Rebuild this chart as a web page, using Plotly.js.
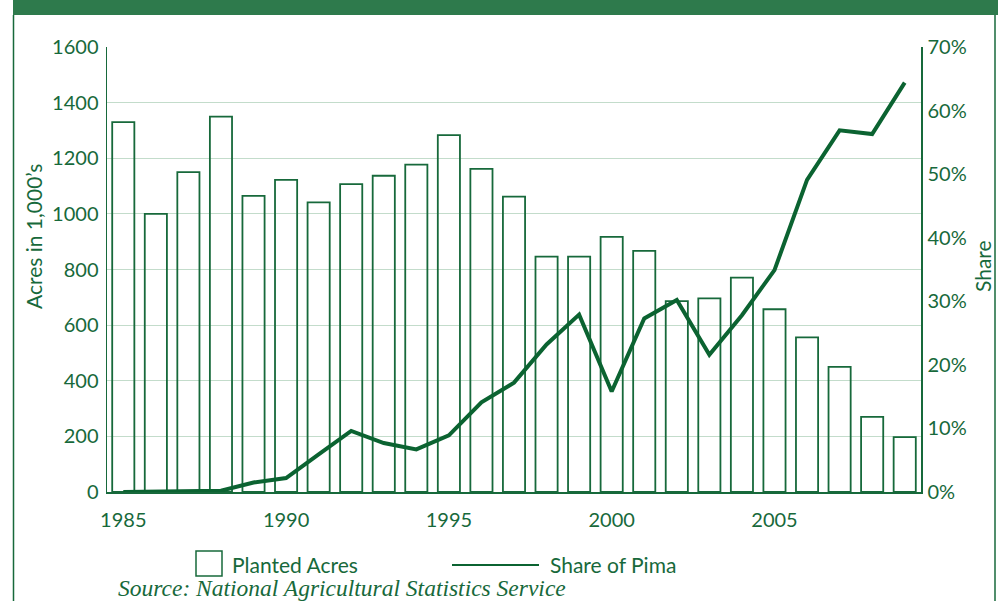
<!DOCTYPE html>
<html>
<head>
<meta charset="utf-8">
<script src="https://cdn.plot.ly/plotly-3.0.1.min.js"></script>
<style>
  html, body { margin: 0; padding: 0; background: #ffffff; }
  #chart { width: 1000px; height: 601px; }
</style>
</head>
<body>
<div id="chart"></div>
<script>
// Data
const years = [1985, 1986, 1987, 1988, 1989, 1990, 1991, 1992, 1993, 1994, 1995, 1996,
               1997, 1998, 1999, 2000, 2001, 2002, 2003, 2004, 2005, 2006, 2007, 2008, 2009];
const plantedAcres = [1330, 1000, 1150, 1350, 1065, 1122, 1041, 1107, 1137, 1177, 1283, 1162,
                      1062, 846, 846, 917, 867, 686, 696, 771, 657, 556, 450, 270, 197];
const shareOfPima = [0.0, 0.1, 0.2, 0.2, 1.5, 2.2, 5.9, 9.6, 7.7, 6.7, 8.9, 14.1,
                     17.2, 23.2, 27.9, 15.8, 27.3, 30.2, 21.6, 27.8, 34.9, 49.1, 56.9, 56.3, 64.4];
const xTicks = [1985, 1990, 1995, 2000, 2005];
const leftTicks = [0, 200, 400, 600, 800, 1000, 1200, 1400, 1600];
const rightTicks = [0, 10, 20, 30, 40, 50, 60, 70];
const rightTickText = ['0%', '10%', '20%', '30%', '40%', '50%', '60%', '70%'];

const GREEN = '#17693b';
const DARK = '#0b6331';
const GRID = '#c3dccb';
const FONT = 'Lato, "Open Sans", sans-serif';
const FS = 20;

const traces = [
  {
    type: 'bar',
    name: 'Planted Acres',
    x: years,
    y: plantedAcres,
    width: 0.68,
    marker: { color: 'rgba(255,255,255,0)', line: { color: GREEN, width: 1.8 } },
    showlegend: false,
    hoverinfo: 'x+y'
  },
  {
    type: 'scatter',
    mode: 'lines',
    name: 'Share of Pima',
    x: years,
    y: shareOfPima,
    yaxis: 'y2',
    line: { color: DARK, width: 4 },
    showlegend: false
  }
];

// paper-coordinate helpers (plot area: x 107..921, y 47..492 px)
const PX = (px) => (px - 107) / 814;
const PY = (py) => (492 - py) / 445;

const layout = {
  width: 1000,
  height: 601,
  margin: { l: 107, r: 79, t: 47, b: 109 },
  paper_bgcolor: '#ffffff',
  plot_bgcolor: '#ffffff',
  font: { family: FONT, color: GREEN, size: FS },
  showlegend: false,
  xaxis: {
    range: [1984.5, 2009.5],
    tickvals: xTicks,
    ticktext: xTicks.map(String),
    showgrid: false,
    zeroline: false,
    showline: true,
    linecolor: GREEN,
    linewidth: 2,
    ticks: '',
    ticklabelstandoff: 9,
    tickfont: { family: FONT, size: FS, color: GREEN }
  },
  yaxis: {
    range: [0, 1600],
    tickvals: leftTicks,
    showgrid: true,
    gridcolor: GRID,
    gridwidth: 1.2,
    zeroline: false,
    showline: true,
    linecolor: GREEN,
    linewidth: 1.5,
    ticks: '',
    ticklabelstandoff: 3,
    tickfont: { family: FONT, size: FS, color: GREEN }
  },
  yaxis2: {
    range: [0, 70],
    tickvals: rightTicks,
    ticktext: rightTickText,
    overlaying: 'y',
    side: 'right',
    showgrid: false,
    zeroline: false,
    showline: true,
    linecolor: GREEN,
    linewidth: 1.5,
    ticks: '',
    ticklabelstandoff: 1,
    tickfont: { family: FONT, size: FS, color: GREEN }
  },
  shapes: [
    // header banner
    { type: 'rect', xref: 'paper', yref: 'paper', x0: PX(13), x1: PX(998), y0: PY(0), y1: PY(15),
      fillcolor: '#2e7a4c', line: { width: 0 }, layer: 'above' },
    // frame lines
    { type: 'line', xref: 'paper', yref: 'paper', x0: PX(13.5), x1: PX(13.5), y0: PY(15), y1: PY(601),
      line: { color: GREEN, width: 1.5 } },
    { type: 'line', xref: 'paper', yref: 'paper', x0: PX(995), x1: PX(995), y0: PY(15), y1: PY(601),
      line: { color: GREEN, width: 1.5 } },
    // legend glyphs
    { type: 'rect', xref: 'paper', yref: 'paper', x0: PX(196), x1: PX(222), y0: PY(576), y1: PY(551),
      fillcolor: 'rgba(0,0,0,0)', line: { color: GREEN, width: 1.5 } },
    { type: 'line', xref: 'paper', yref: 'paper', x0: PX(452), x1: PX(539), y0: PY(565), y1: PY(565),
      line: { color: DARK, width: 2 } }
  ],
  annotations: [
    // axis titles
    { xref: 'paper', yref: 'paper', x: PX(33), y: PY(237), xanchor: 'center', yanchor: 'middle',
      textangle: -90, text: 'Acres in 1,000\u2019s', showarrow: false,
      font: { family: FONT, size: 21, color: GREEN } },
    { xref: 'paper', yref: 'paper', x: PX(982), y: PY(266), xanchor: 'center', yanchor: 'middle',
      textangle: -90, text: 'Share', showarrow: false,
      font: { family: FONT, size: 21, color: GREEN } },
    // legend labels
    { xref: 'paper', yref: 'paper', x: PX(230), y: PY(564), xanchor: 'left', yanchor: 'middle',
      text: 'Planted Acres', showarrow: false, font: { family: FONT, size: 21, color: GREEN } },
    { xref: 'paper', yref: 'paper', x: PX(548), y: PY(564), xanchor: 'left', yanchor: 'middle',
      text: 'Share of Pima', showarrow: false, font: { family: FONT, size: 21, color: GREEN } },
    // source note
    { xref: 'paper', yref: 'paper', x: PX(116), y: PY(588), xanchor: 'left', yanchor: 'middle',
      text: '<i>Source: National Agricultural Statistics Service</i>', showarrow: false,
      font: { family: '"Liberation Serif", "DejaVu Serif", serif', size: 23.5, color: GREEN } }
  ]
};

Plotly.newPlot('chart', traces, layout, { staticPlot: true, displayModeBar: false });
</script>
</body>
</html>
